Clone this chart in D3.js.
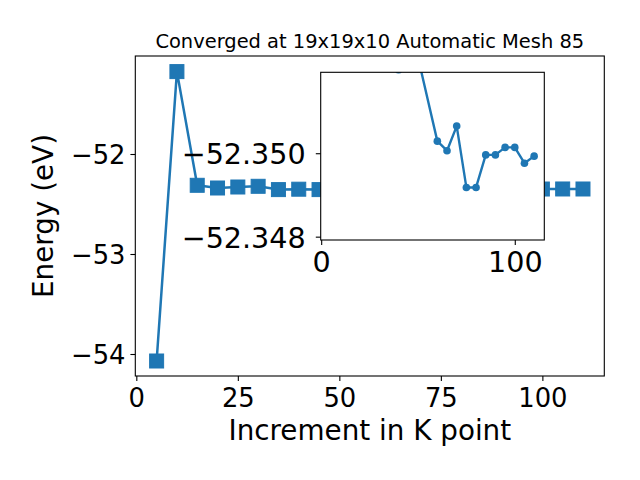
<!DOCTYPE html>
<html>
<head>
<meta charset="utf-8">
<script src="https://cdn.jsdelivr.net/npm/d3@7"></script>
<style>
  html, body { margin: 0; padding: 0; background: #fff; }
  svg { display: block; }
  text { font-family: "DejaVu Sans", sans-serif; fill: #000; }
</style>
</head>
<body>
<svg id="chart" width="640" height="480"></svg>
<script>
// ---- data ----
const kPoints = [5, 10, 15, 20, 25, 30, 35, 40, 45, 50, 60, 65, 70, 75, 80, 85, 90, 95, 100, 105, 110];
const energies = [-54.07, -51.176, -52.313, -52.34, -52.33, -52.323, -52.356, -52.352, -52.356, -52.3523,
  -52.35029, -52.35006, -52.35065, -52.34918, -52.34918, -52.34996, -52.34996, -52.35014, -52.35014, -52.34976, -52.34993];
const insetFromK = 35;
const xTicks = [0, 25, 50, 75, 100];
const yTicks = [-52, -53, -54];
const insetXTicks = [0, 100];
const insetYTicks = [-52.350, -52.348];
const titleText = "Converged at 19x19x10 Automatic Mesh 85";
const xLabelText = "Increment in K point";
const yLabelText = "Energy (eV)";

const data = kPoints.map((k, i) => ({ k, e: energies[i] }));
const insetData = data.filter(d => d.k >= insetFromK);

const color = "#1f77b4";
const svg = d3.select("#chart");
const minus = s => s.replace(/-/g, "\u2212");

// ---- main axes ----
const M = { left: 135.3, right: 604.3, top: 56, bottom: 376 };
const x = d3.scaleLinear().domain([-0.25, 115.25]).range([M.left, M.right]);
const y = d3.scaleLinear().domain([-54.22, -51.02]).range([M.bottom, M.top]);

const tickFs = 25.8, labelFs = 27.8, titleFs = 19.44, insetFs = 28.6;

const main = svg.append("g");
main.append("rect").attr("x", M.left).attr("y", M.top)
  .attr("width", M.right - M.left).attr("height", M.bottom - M.top)
  .attr("fill", "#fff");

// x axis
const xAxis = d3.axisBottom(x).tickValues(xTicks).tickSize(4.9).tickPadding(4.9)
  .tickFormat(d => minus(d3.format("d")(d)));
const gx = main.append("g").attr("transform", `translate(0,${M.bottom})`).call(xAxis);
gx.select(".domain").remove();
gx.selectAll(".tick line").attr("stroke", "#000").attr("stroke-width", 1.1);
gx.selectAll(".tick text").attr("font-size", tickFs).attr("dy", null).attr("y", 30.5)
  .attr("font-family", "DejaVu Sans");

// y axis
const yAxis = d3.axisLeft(y).tickValues(yTicks).tickSize(4.9).tickPadding(4.9)
  .tickFormat(d => minus(d3.format("d")(d)));
const gy = main.append("g").attr("transform", `translate(${M.left},0)`).call(yAxis);
gy.select(".domain").remove();
gy.selectAll(".tick line").attr("stroke", "#000").attr("stroke-width", 1.1);
gy.selectAll(".tick text").attr("font-size", tickFs).attr("dy", null).attr("y", 9.4)
  .attr("x", -9.8).attr("font-family", "DejaVu Sans");

// main line + markers
const line = d3.line().x(d => x(d.k)).y(d => y(d.e));
main.append("path").datum(data).attr("d", line).attr("fill", "none")
  .attr("stroke", color).attr("stroke-width", 2.5).attr("stroke-linejoin", "round");
main.selectAll("rect.sq").data(data).join("rect").attr("class", "sq")
  .attr("x", d => x(d.k) - 7).attr("y", d => y(d.e) - 7)
  .attr("width", 14).attr("height", 14)
  .attr("fill", color).attr("stroke", color).attr("stroke-width", 1);

// main spines
main.append("rect").attr("x", M.left).attr("y", M.top)
  .attr("width", M.right - M.left).attr("height", M.bottom - M.top)
  .attr("fill", "none").attr("stroke", "#000").attr("stroke-width", 1.1);

// title & labels
svg.append("text").attr("x", (M.left + M.right) / 2).attr("y", 47.7)
  .attr("text-anchor", "middle").attr("font-size", titleFs).text(titleText);
svg.append("text").attr("x", (M.left + M.right) / 2).attr("y", 439.5)
  .attr("text-anchor", "middle").attr("font-size", labelFs).text(xLabelText);
svg.append("text").attr("transform", `translate(53,${(M.top + M.bottom) / 2}) rotate(-90)`)
  .attr("text-anchor", "middle").attr("font-size", labelFs).text(yLabelText);

// ---- inset axes ----
const I = { left: 320.7, right: 544.3, top: 72.3, bottom: 240 };
const xi = d3.scaleLinear().domain([-0.25, 115.25]).range([I.left, I.right]);
const yi = d3.scaleLinear().domain([-52.35194, -52.34792]).range([I.top, I.bottom]);

const inset = svg.append("g");
inset.append("rect").attr("x", I.left).attr("y", I.top)
  .attr("width", I.right - I.left).attr("height", I.bottom - I.top).attr("fill", "#fff");

svg.append("defs").append("clipPath").attr("id", "insetClip")
  .append("rect").attr("x", I.left).attr("y", I.top)
  .attr("width", I.right - I.left).attr("height", I.bottom - I.top);

const plotI = inset.append("g").attr("clip-path", "url(#insetClip)");
const lineI = d3.line().x(d => xi(d.k)).y(d => yi(d.e));
plotI.append("path").datum(insetData).attr("d", lineI).attr("fill", "none")
  .attr("stroke", color).attr("stroke-width", 2.4).attr("stroke-linejoin", "round");
plotI.selectAll("circle").data(insetData).join("circle")
  .attr("cx", d => xi(d.k)).attr("cy", d => yi(d.e)).attr("r", 3.8).attr("fill", color);

const xAxisI = d3.axisBottom(xi).tickValues(insetXTicks).tickSize(4.9).tickPadding(4.9)
  .tickFormat(d => minus(d3.format("d")(d)));
const gxi = inset.append("g").attr("transform", `translate(0,${I.bottom})`).call(xAxisI);
gxi.select(".domain").remove();
gxi.selectAll(".tick line").attr("stroke", "#000").attr("stroke-width", 1.1);
gxi.selectAll(".tick text").attr("font-size", insetFs).attr("dy", null).attr("y", 32)
  .attr("font-family", "DejaVu Sans");

const yAxisI = d3.axisLeft(yi).tickValues(insetYTicks).tickSize(4.9).tickPadding(4.9)
  .tickFormat(d => minus(d3.format(".3f")(d)));
const gyi = inset.append("g").attr("transform", `translate(${I.left},0)`).call(yAxisI);
gyi.select(".domain").remove();
gyi.selectAll(".tick line").attr("stroke", "#000").attr("stroke-width", 1.1);
gyi.selectAll(".tick text").attr("font-size", insetFs).attr("dy", null).attr("y", 10.4)
  .attr("x", -15).attr("font-family", "DejaVu Sans");

inset.append("rect").attr("x", I.left).attr("y", I.top)
  .attr("width", I.right - I.left).attr("height", I.bottom - I.top)
  .attr("fill", "none").attr("stroke", "#000").attr("stroke-width", 1.1);
</script>
</body>
</html>
